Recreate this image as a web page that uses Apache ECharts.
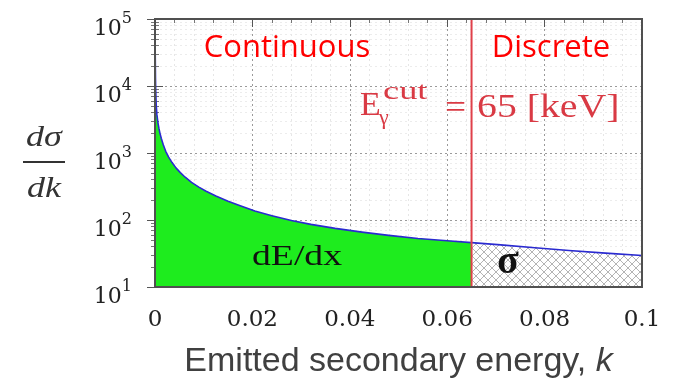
<!DOCTYPE html>
<html>
<head>
<meta charset="utf-8">
<script src="https://cdn.jsdelivr.net/npm/echarts@6/dist/echarts.min.js"></script>
<style>
  html, body { margin: 0; padding: 0; background: #fff; }
  #main { width: 677px; height: 387px; }
</style>
</head>
<body>
<div id="main"></div>
<script>
// 读图得到的数据：发射次级能量 k 与 dσ/dk
var kValues = [0.00002, 0.00005, 0.0001, 0.00015, 0.00025, 0.0004, 0.0006, 0.0008, 0.001, 0.0013,
  0.0017, 0.0022, 0.0028, 0.0035, 0.0043, 0.0052, 0.0062, 0.0075, 0.009, 0.0105,
  0.0125, 0.015, 0.0175, 0.0205, 0.024, 0.028, 0.032, 0.037, 0.0425, 0.048,
  0.054, 0.06, 0.065, 0.071, 0.078, 0.085, 0.0925, 0.1];
var dsdk = [100000, 30000, 13000, 8500, 5200, 3700, 2850, 2350, 2000, 1650,
  1330, 1060, 870, 720, 600, 510, 435, 365, 310, 268,
  228, 190, 163, 136, 116, 98, 86, 75, 66, 59,
  53, 49, 46, 42.5, 38.5, 35, 32, 29.5];
var cutK = 0.065;
var xTicks = [0, 0.02, 0.04, 0.06, 0.08, 0.1];
var yDecades = [1, 2, 3, 4, 5];

(function () {
  var myChart = echarts.init(document.getElementById("main"));

  var yMin = Math.pow(10, yDecades[0]);
  var yMax = Math.pow(10, yDecades[yDecades.length - 1]);
  var curve = kValues.map(function (k, i) { return [k, dsdk[i]]; });
  var continuous = curve.filter(function (d) { return d[0] <= cutK; });
  var discrete = curve.filter(function (d) { return d[0] >= cutK; });

  // 网格交叉填充图案
  var hatch = document.createElement("canvas");
  hatch.width = 8;
  hatch.height = 8;
  var ctx = hatch.getContext("2d");
  ctx.fillStyle = "#fff";
  ctx.fillRect(0, 0, 8, 8);
  ctx.strokeStyle = "#b4b4b4";
  ctx.lineWidth = 1;
  ctx.beginPath();
  ctx.moveTo(0, 0); ctx.lineTo(8, 8);
  ctx.moveTo(8, 0); ctx.lineTo(0, 8);
  ctx.stroke();

  var serif = "Liberation Serif";
  var labelSerif = "DejaVu Serif";

  var option = {
    animation: false,
    grid: { left: 155, right: 35, top: 19, bottom: 100 },
    xAxis: [
      {
        type: "value",
        min: xTicks[0],
        max: xTicks[xTicks.length - 1],
        interval: 0.02,
        name: "{n|Emitted secondary energy, }{i|k}",
        nameLocation: "middle",
        nameGap: 58,
        nameTextStyle: {
          rich: {
            n: { fontFamily: "Liberation Sans", fontSize: 34, color: "#404040" },
            i: { fontFamily: "Liberation Sans", fontSize: 34, fontStyle: "italic", color: "#404040" }
          }
        },
        axisLine: { show: false },
        axisTick: { inside: true, length: 8, lineStyle: { color: "#555" } },
        minorTick: { show: true, splitNumber: 5, length: 4, lineStyle: { color: "#777" } },
        axisLabel: {
          margin: 22,
          fontFamily: labelSerif,
          fontSize: 23,
          color: "#222",
          formatter: function (v) { return String(+v.toFixed(2)); }
        },
        splitLine: { show: true, lineStyle: { color: "#9a9a9a", type: [2, 3] } },
        minorSplitLine: { show: true, lineStyle: { color: "#e6e6e6", type: [2, 3] } }
      },
      {
        type: "value",
        position: "top",
        min: 0,
        max: 0.1,
        interval: 0.02,
        axisLine: { show: false },
        axisTick: { inside: true, length: 8, lineStyle: { color: "#555" } },
        minorTick: { show: true, splitNumber: 5, length: 4, lineStyle: { color: "#777" } },
        axisLabel: { show: false },
        splitLine: { show: false }
      }
    ],
    yAxis: [
      {
        type: "log",
        logBase: 10,
        min: yMin,
        max: yMax,
        splitNumber: 4,
        axisLine: { show: false },
        axisTick: { inside: true, length: 8, lineStyle: { color: "#555" } },
        minorTick: { show: true, splitNumber: 9, length: 4, lineStyle: { color: "#777" } },
        axisLabel: {
          margin: 23,
          padding: [13, 0, 0, 0],
          formatter: function (v) {
            return "{b|10}{s|" + Math.round(Math.log10(v)) + "}";
          },
          rich: {
            b: { fontFamily: labelSerif, fontSize: 22, color: "#222", lineHeight: 30, verticalAlign: "bottom" },
            s: { fontFamily: labelSerif, fontSize: 16, color: "#222", lineHeight: 14, verticalAlign: "top" }
          }
        },
        splitLine: { show: true, lineStyle: { color: "#9a9a9a", type: [2, 3] } },
        minorSplitLine: { show: true, lineStyle: { color: "#ececec", type: [2, 3] } }
      },
      {
        type: "log",
        logBase: 10,
        position: "right",
        min: yMin,
        max: yMax,
        splitNumber: 4,
        axisLine: { show: false },
        axisTick: { inside: true, length: 8, lineStyle: { color: "#555" } },
        minorTick: { show: true, splitNumber: 9, length: 4, lineStyle: { color: "#777" } },
        axisLabel: { show: false },
        splitLine: { show: false }
      }
    ],
    series: [
      {
        name: "dE/dx",
        type: "line",
        data: continuous,
        showSymbol: false,
        lineStyle: { width: 0 },
        areaStyle: { color: "#1eec1e", opacity: 1, origin: "start" },
        z: 2
      },
      {
        name: "sigma",
        type: "line",
        data: discrete,
        showSymbol: false,
        lineStyle: { width: 0 },
        areaStyle: { color: { image: hatch, repeat: "repeat" }, opacity: 1, origin: "start" },
        z: 2
      },
      {
        name: "curve",
        type: "line",
        data: curve,
        showSymbol: false,
        lineStyle: { color: "#2a2ad0", width: 1.6, join: "round" },
        z: 3
      },
      {
        // 截断能量竖线
        name: "cut",
        type: "line",
        data: [[cutK, yMin], [cutK, yMax]],
        showSymbol: false,
        lineStyle: { color: "#e0404a", width: 2 },
        z: 4
      }
    ]
  };
  myChart.setOption(option);

  // 注释文字、外框、纵轴标题
  function px(k, v) {
    return myChart.convertToPixel({ xAxisIndex: 0, yAxisIndex: 0 }, [k, v]);
  }
  var lt = px(0, yMax);
  var rb = px(0.1, yMin);
  var red = "#d93a44";

  function txt(text, x, y, font, fill, align, sx) {
    return {
      type: "text",
      x: x,
      y: y,
      scaleX: sx || 1,
      z: 50,
      style: { text: text, font: font, fill: fill, align: align || "left", verticalAlign: "middle" }
    };
  }

  myChart.setOption({
    graphic: [
      {
        type: "rect",
        z: 60,
        shape: { x: lt[0], y: lt[1], width: rb[0] - lt[0], height: rb[1] - lt[1] },
        style: { fill: "none", stroke: "#505050", lineWidth: 2 }
      },
      txt("Continuous", 287, 48, "31px 'Open Sans'", "#ff0000", "center"),
      txt("Discrete", 551, 48, "31px 'Open Sans'", "#ff0000", "center"),
      txt("E", 360, 106, "34px '" + serif + "'", red),
      txt("γ", 379, 118, "22px '" + serif + "'", red),
      txt("cut", 383, 92, "26px '" + serif + "'", red, "left", 1.4),
      txt("=", 445, 109, "34px '" + serif + "'", red, "left", 1.1),
      txt("65 [keV]", 477, 108, "34px '" + serif + "'", red, "left", 1.17),
      txt("dE/dx", 252, 257, "29px '" + serif + "'", "#111", "left", 1.3),
      txt("σ", 497, 263, "bold 40px '" + serif + "'", "#111"),
      txt("dσ", 44, 138, "italic 30px '" + serif + "'", "#333", "center", 1.2),
      {
        type: "rect",
        z: 50,
        shape: { x: 23, y: 161, width: 42, height: 2 },
        style: { fill: "#333" }
      },
      txt("dk", 44, 189, "italic 30px '" + serif + "'", "#333", "center", 1.2)
    ]
  });

  window.addEventListener("resize", function () {
    myChart.resize();
  });
})();
</script>
</body>
</html>
